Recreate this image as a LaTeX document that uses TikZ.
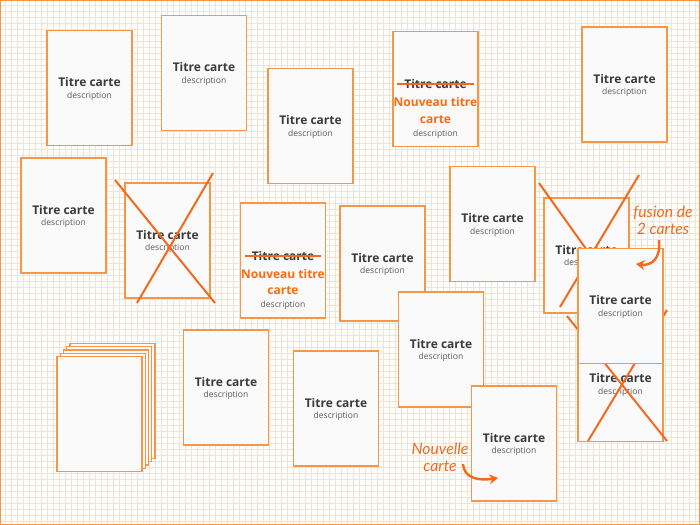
\documentclass[tikz,border=0pt]{standalone}
\usepackage{fontspec}
\setmainfont{Open Sans}
\newfontfamily\hand{Lato}
\usetikzlibrary{calc,arrows.meta}
\definecolor{cardborder}{HTML}{F79646}
\definecolor{crossc}{HTML}{F36A1E}
\definecolor{titlec}{HTML}{3A3A3A}
\definecolor{descc}{HTML}{5A5A5A}
\definecolor{newc}{HTML}{FF6A10}
\definecolor{gridc}{HTML}{FCE0CE}
\definecolor{cardfill}{HTML}{FAFAFA}
\newcommand\mkcard[3]{%
  \node[card] (#1) at (#2,#3) {};
  \node[ttl] (#1t) at ($(#1)+(0,-6)$) {Titre carte};
  \node[dsc] (#1d) at ($(#1)+(0,8)$) {description};}
\newcommand\mknewcard[3]{%
  \node[card] (#1) at (#2,#3) {};
  \node[ttl] (#1t) at ($(#1)+(0,-5)$) {Titre carte};
  \draw[strike] (#1t.west) -- (#1t.east);
  \node[newt] (#1n) at ($(#1)+(0,21.5)$) {Nouveau titre\\carte};
  \node[dsc] (#1d) at ($(#1)+(0,45)$) {description};}
\begin{document}
\begin{tikzpicture}[x=0.75pt,y=-0.75pt,
  card/.style={draw=cardborder,line width=0.9pt,fill=cardfill,minimum width=63.75pt,minimum height=86.25pt,inner sep=0pt},
  ttl/.style={font=\bfseries\fontsize{9}{11}\selectfont,text=titlec,inner sep=0pt},
  dsc/.style={font=\fontsize{6.4}{8}\selectfont,text=descc,inner sep=0pt},
  newt/.style={font=\bfseries\fontsize{9}{12.2}\selectfont,text=newc,align=center,inner sep=0pt},
  strike/.style={draw=crossc,line width=1.5pt,shorten <=-5pt,shorten >=-5pt},
  cross/.style={draw=crossc,line width=1.5pt},
  note/.style={font=\hand\itshape\fontsize{11.8}{13}\selectfont,text=crossc,align=center,inner sep=0pt},
  notearrow/.style={draw=crossc,line width=1.8pt,-{Stealth[length=6.5pt,width=7.5pt]}},
  gridline/.style={draw=gridc,line width=0.8pt}]
\useasboundingbox (0,0) rectangle (700,525);
\fill[white] (0,0) rectangle (700,525);
\foreach \i in {0,...,115} {\draw[gridline] (5.5+6*\i,0) -- (5.5+6*\i,525);}
\foreach \j in {0,...,86} {\draw[gridline] (0,5.5+6*\j) -- (700,5.5+6*\j);}
\draw[draw=cardborder,line width=1.4pt] (0.5,0.5) rectangle (699.5,524.5);
% cards
\mkcard{c1}{89.5}{88}
\mkcard{c2}{204}{73}
\mkcard{c3}{310.5}{126}
\mknewcard{c4}{435.5}{89}
\mkcard{c5}{624.5}{84.5}
\mkcard{c6}{63.5}{215.5}
\mkcard{c7}{167.5}{240.5}
\coordinate (x7a) at (115,180); \coordinate (x7b) at (215,303);
\coordinate (x7c) at (213,173); \coordinate (x7d) at (137,303);
\draw[cross] (x7a) -- (x7b); \draw[cross] (x7c) -- (x7d);
\mknewcard{c8}{283}{260.5}
\mkcard{c9}{382.5}{263.5}
\mkcard{c10}{492.5}{224}
\mkcard{c11}{586.5}{255.5}
\coordinate (x11a) at (539,183); \coordinate (x11b) at (634,316);
\coordinate (x11c) at (639,175); \coordinate (x11d) at (560,307);
\draw[cross] (x11a) -- (x11b); \draw[cross] (x11c) -- (x11d);
\mkcard{c14}{620.5}{384}
\coordinate (x14a) at (567,316); \coordinate (x14b) at (667,441);
\coordinate (x14c) at (667,310); \coordinate (x14d) at (588,441);
\draw[cross] (x14a) -- (x14b); \draw[cross] (x14c) -- (x14d);
\mkcard{c12}{620.5}{306}
\mkcard{c17}{441}{349.5}
\mkcard{c18}{514}{443.5}
% stack
\node[card] (s4) at (112.5,401) {};
\node[card] (s3) at (109.25,404.25) {};
\node[card] (s2) at (106,407.5) {};
\node[card] (s1) at (102.75,410.75) {};
\node[card] (s0) at (99.5,414) {};
\mkcard{c15}{226}{387.5}
\mkcard{c16}{336}{408.5}
% notes
\node[note] (n1) at (663,220.5) {fusion de\\2 cartes};
\coordinate (a1s) at (659,240); \coordinate (a1e) at (636,264);
\draw[notearrow] (a1s) .. controls (661,258) and (652,266) .. (a1e);
\node[note] (n2) at (440,457) {Nouvelle\\carte};
\coordinate (a2s) at (463,464); \coordinate (a2e) at (498,478);
\draw[notearrow] (a2s) .. controls (464,478) and (478,481) .. (a2e);
\end{tikzpicture}
\end{document}
